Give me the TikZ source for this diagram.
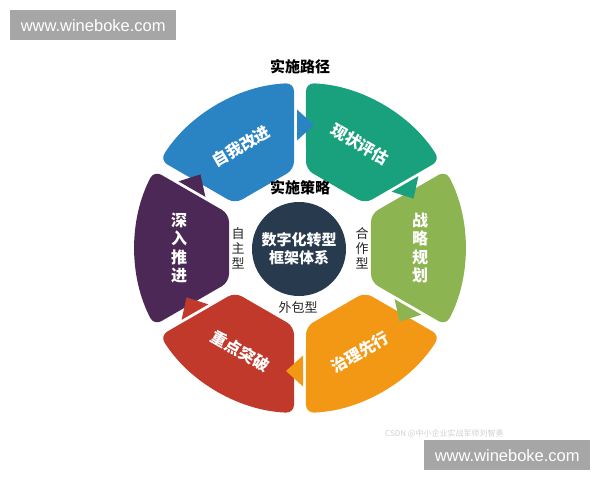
\documentclass[tikz,border=0pt]{standalone}
\usepackage{fontspec}
\newfontfamily\cjk{Noto Sans CJK SC}
\newfontfamily\wm{Liberation Sans}
\usetikzlibrary{calc}
\definecolor{cblue}{RGB}{42,132,196}
\definecolor{cgreen}{RGB}{25,160,125}
\definecolor{clime}{RGB}{140,180,80}
\definecolor{corange}{RGB}{242,152,20}
\definecolor{cred}{RGB}{192,57,43}
\definecolor{cpurple}{RGB}{75,40,85}
\definecolor{cnavy}{RGB}{40,58,78}
\definecolor{wmgray}{RGB}{166,166,166}
\tikzset{
  seglabel/.style={text=white, font=\cjk\bfseries\fontsize{16}{18.5}\selectfont, align=center, inner sep=0pt},
  headlabel/.style={text=black, font=\cjk\bfseries\fontsize{15}{18}\selectfont, inner sep=0pt},
  typelabel/.style={text=black!85, font=\cjk\fontsize{13}{15}\selectfont, align=center, inner sep=0pt},
  wmbox/.style={fill=wmgray, text=white, font=\wm\fontsize{16.5}{18}\selectfont, minimum width=166pt, minimum height=30pt, inner sep=0pt}
}
\begin{document}
\begin{tikzpicture}[x=1pt,y=1pt]
\useasboundingbox (0,0) rectangle (600,480);
\fill[white] (0,0) rectangle (600,480);
\coordinate (C) at (300,232);
\def\R{165}
\def\S{78.5}
\def\g{6}
\def\d{2.08}
% segments
\foreach \a/\col in {120/cblue,60/cgreen,0/clime,-60/corange,-120/cred,180/cpurple}{
  \fill[\col, rounded corners=8pt]
    ($(C)+({\a+30}:\S)+({\a-60}:\g)$) --
    ($(C)+({\a+30-\d}:\R)$)
    arc[start angle={\a+30-\d}, end angle={\a-30+\d}, radius=\R] --
    ($(C)+({\a-30}:\S)+({\a+60}:\g)$) -- cycle;
}
% arrow triangles
\foreach \a/\col in {120/cblue,60/cgreen,0/clime,-60/corange,-120/cred,180/cpurple}{
  \pgfmathsetmacro{\b}{\a-30}
  \coordinate (B) at ($(C)+(\b:123)+({\b+90}:3)$);
  \fill[\col] ($(B)+(\b:15.5)$) -- ($(B)+(\b:-15.5)$) -- ($(B)+({\b-90}:17)$) -- cycle;
}
% centre
\node[circle, fill=cnavy, minimum size=94pt, inner sep=0pt] (core) at (299,231) {};
\node[seglabel, font=\cjk\bfseries\fontsize{15}{18}\selectfont] (coretext) at (core) {数字化转型\\框架体系};
% segment labels
\node[seglabel, rotate=30] (l1) at ($(C)+(120:118)$) {自我改进};
\node[seglabel, rotate=-30] (l2) at ($(C)+(60:120)$) {现状评估};
\node[seglabel] (l3) at ($(C)+(0:120)$) {战\\略\\规\\划};
\node[seglabel, rotate=30] (l4) at ($(C)+(-60:120)$) {治理先行};
\node[seglabel, rotate=-30] (l5) at ($(C)+(-120:119)$) {重点突破};
\node[seglabel] (l6) at ($(C)+(180:121)$) {深\\入\\推\\进};
% headings
\node[headlabel] (path) at (300,413) {实施路径};
\node[headlabel] (strat) at (300,292) {实施策略};
\node[typelabel] (t1) at (238,232) {自\\主\\型};
\node[typelabel] (t2) at (362,232) {合\\作\\型};
\node[typelabel] (t3) at (298,172) {外包型};
% watermarks
\node[wmbox, anchor=north west] (wm1) at (10,470) {www.wineboke.com};
\node[wmbox, anchor=north west] (wm2) at (424,40) {www.wineboke.com};
\node[anchor=west, text=black!18, font=\cjk\fontsize{8}{9}\selectfont, inner sep=0pt] (csdn) at (385,46) {CSDN @中小企业实战军师刘智勇};
\end{tikzpicture}
\end{document}
